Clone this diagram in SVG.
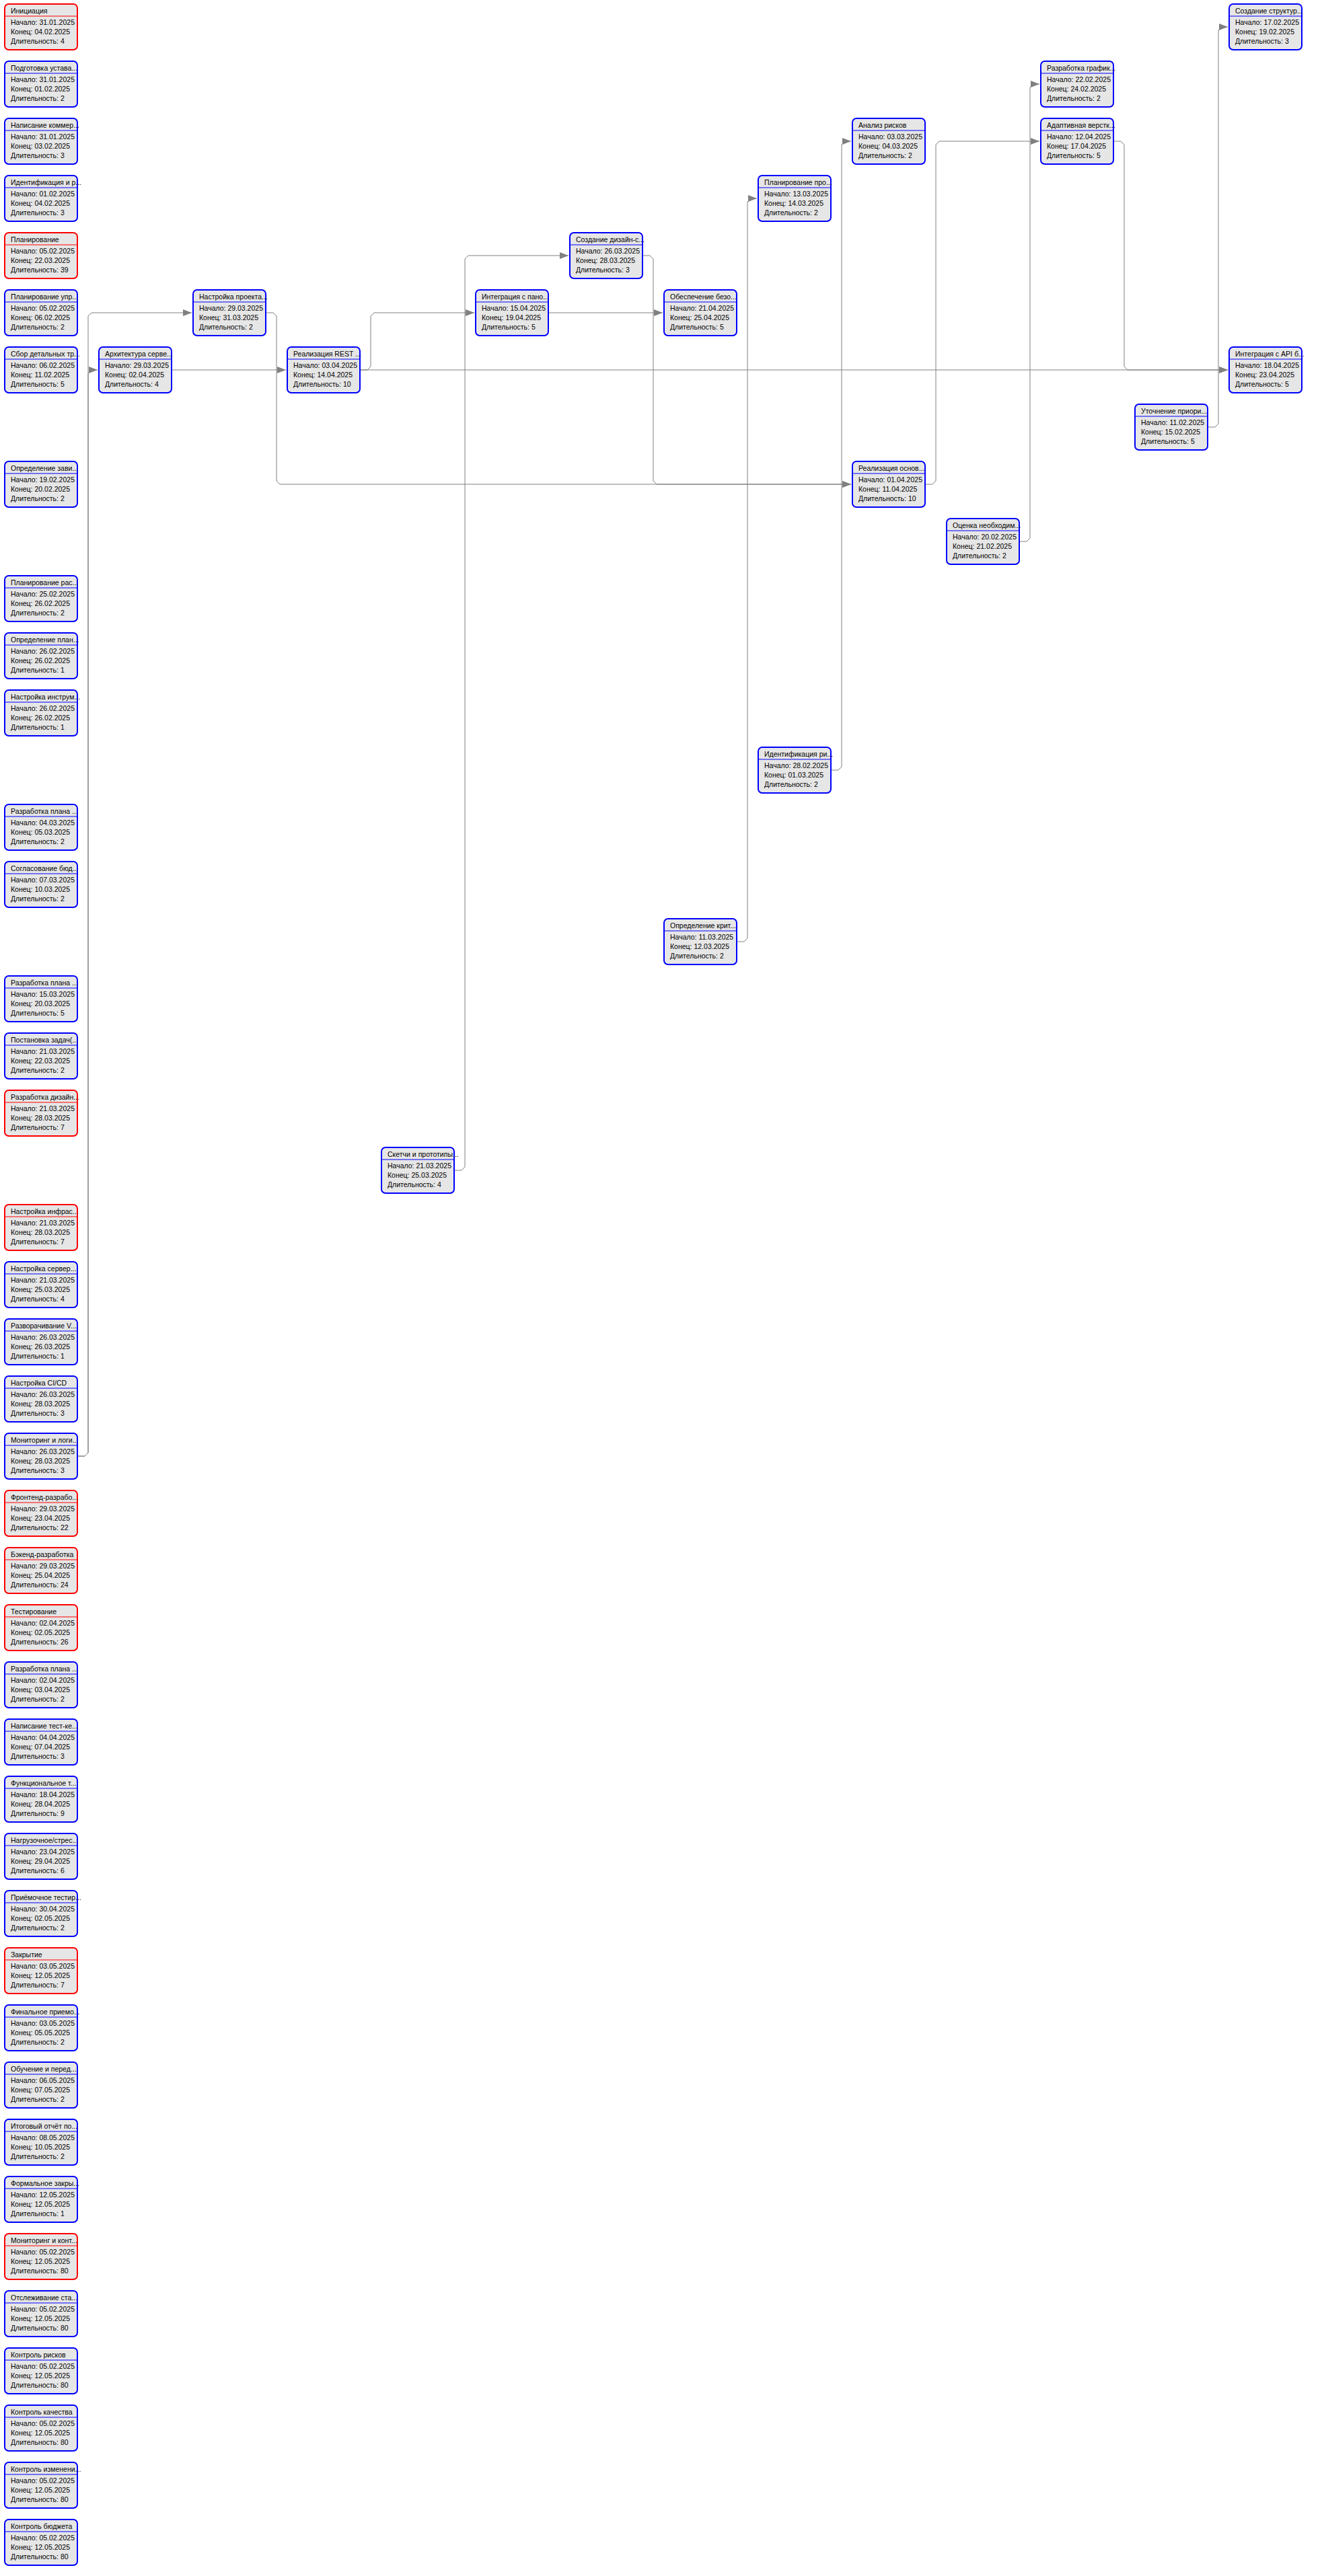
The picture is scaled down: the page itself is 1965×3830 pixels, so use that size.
<svg xmlns="http://www.w3.org/2000/svg" width="1965" height="3830" viewBox="0 0 1965 3830">
<defs>
<style>
.b{fill:#E6E6E6;stroke:#0000FF;stroke-width:2}
.r .b{stroke:#FF0000}
.hl{stroke:#0000FF;stroke-width:1}
.r .hl{stroke:#FF0000}
text{font-family:"Liberation Sans",Arial,sans-serif;font-size:10.5px;fill:#000}
.c{fill:none;stroke:#808080;stroke-width:1}
</style>
<marker id="ah" markerUnits="userSpaceOnUse" markerWidth="14" markerHeight="10" refX="13" refY="5" orient="auto">
<path d="M0,0 L13,5 L0,10 z" fill="#808080"/>
</marker>
</defs>
<rect width="1965" height="3830" fill="#FFFFFF"/>
<g id="connectors">
<path class="c" marker-end="url(#ah)" d="M116,2165 H126 L131,2160 V470 L136,465 H285"/>
<path class="c" marker-end="url(#ah)" d="M116,2165 H126 L131,2160 V555 L136,550 H145"/>
<path class="c" marker-end="url(#ah)" d="M396,465 H406 L411,470 V715 L416,720 H1265"/>
<path class="c" marker-end="url(#ah)" d="M256,550 H425"/>
<path class="c" marker-end="url(#ah)" d="M536,550 H546 L551,545 V470 L556,465 H705"/>
<path class="c" marker-end="url(#ah)" d="M536,550 H1825"/>
<path class="c" marker-end="url(#ah)" d="M816,465 H985"/>
<path class="c" marker-end="url(#ah)" d="M676,1740 H686 L691,1735 V385 L696,380 H845"/>
<path class="c" marker-end="url(#ah)" d="M956,380 H966 L971,385 V715 L976,720 H1265"/>
<path class="c" marker-end="url(#ah)" d="M1096,1400 H1106 L1111,1395 V300 L1116,295 H1125"/>
<path class="c" marker-end="url(#ah)" d="M1236,1145 H1246 L1251,1140 V215 L1256,210 H1265"/>
<path class="c" marker-end="url(#ah)" d="M1376,720 H1386 L1391,715 V215 L1396,210 H1545"/>
<path class="c" marker-end="url(#ah)" d="M1516,805 H1526 L1531,800 V130 L1536,125 H1545"/>
<path class="c" marker-end="url(#ah)" d="M1656,210 H1666 L1671,215 V545 L1676,550 H1825"/>
<path class="c" marker-end="url(#ah)" d="M1796,635 H1806 L1811,630 V45 L1816,40 H1825"/>
</g>
<g id="n0" class="r" transform="translate(6,5)"><rect class="b" x="1" y="1" width="108" height="68" rx="6"/><line class="hl" x1="1" y1="19" x2="109" y2="19"/><text x="10" y="14.5">Инициация</text><text x="10" y="32">Начало: 31.01.2025</text><text x="10" y="46">Конец: 04.02.2025</text><text x="10" y="60">Длительность: 4</text></g>
<g id="n1" transform="translate(6,90)"><rect class="b" x="1" y="1" width="108" height="68" rx="6"/><line class="hl" x1="1" y1="19" x2="109" y2="19"/><text x="10" y="14.5">Подготовка устава...</text><text x="10" y="32">Начало: 31.01.2025</text><text x="10" y="46">Конец: 01.02.2025</text><text x="10" y="60">Длительность: 2</text></g>
<g id="n2" transform="translate(6,175)"><rect class="b" x="1" y="1" width="108" height="68" rx="6"/><line class="hl" x1="1" y1="19" x2="109" y2="19"/><text x="10" y="14.5">Написание коммер...</text><text x="10" y="32">Начало: 31.01.2025</text><text x="10" y="46">Конец: 03.02.2025</text><text x="10" y="60">Длительность: 3</text></g>
<g id="n3" transform="translate(6,260)"><rect class="b" x="1" y="1" width="108" height="68" rx="6"/><line class="hl" x1="1" y1="19" x2="109" y2="19"/><text x="10" y="14.5">Идентификация и р...</text><text x="10" y="32">Начало: 01.02.2025</text><text x="10" y="46">Конец: 04.02.2025</text><text x="10" y="60">Длительность: 3</text></g>
<g id="n4" class="r" transform="translate(6,345)"><rect class="b" x="1" y="1" width="108" height="68" rx="6"/><line class="hl" x1="1" y1="19" x2="109" y2="19"/><text x="10" y="14.5">Планирование</text><text x="10" y="32">Начало: 05.02.2025</text><text x="10" y="46">Конец: 22.03.2025</text><text x="10" y="60">Длительность: 39</text></g>
<g id="n5" transform="translate(6,430)"><rect class="b" x="1" y="1" width="108" height="68" rx="6"/><line class="hl" x1="1" y1="19" x2="109" y2="19"/><text x="10" y="14.5">Планирование упр...</text><text x="10" y="32">Начало: 05.02.2025</text><text x="10" y="46">Конец: 06.02.2025</text><text x="10" y="60">Длительность: 2</text></g>
<g id="n6" transform="translate(6,515)"><rect class="b" x="1" y="1" width="108" height="68" rx="6"/><line class="hl" x1="1" y1="19" x2="109" y2="19"/><text x="10" y="14.5">Сбор детальных тр...</text><text x="10" y="32">Начало: 06.02.2025</text><text x="10" y="46">Конец: 11.02.2025</text><text x="10" y="60">Длительность: 5</text></g>
<g id="n7" transform="translate(6,685)"><rect class="b" x="1" y="1" width="108" height="68" rx="6"/><line class="hl" x1="1" y1="19" x2="109" y2="19"/><text x="10" y="14.5">Определение зави...</text><text x="10" y="32">Начало: 19.02.2025</text><text x="10" y="46">Конец: 20.02.2025</text><text x="10" y="60">Длительность: 2</text></g>
<g id="n8" transform="translate(6,855)"><rect class="b" x="1" y="1" width="108" height="68" rx="6"/><line class="hl" x1="1" y1="19" x2="109" y2="19"/><text x="10" y="14.5">Планирование рас...</text><text x="10" y="32">Начало: 25.02.2025</text><text x="10" y="46">Конец: 26.02.2025</text><text x="10" y="60">Длительность: 2</text></g>
<g id="n9" transform="translate(6,940)"><rect class="b" x="1" y="1" width="108" height="68" rx="6"/><line class="hl" x1="1" y1="19" x2="109" y2="19"/><text x="10" y="14.5">Определение план...</text><text x="10" y="32">Начало: 26.02.2025</text><text x="10" y="46">Конец: 26.02.2025</text><text x="10" y="60">Длительность: 1</text></g>
<g id="n10" transform="translate(6,1025)"><rect class="b" x="1" y="1" width="108" height="68" rx="6"/><line class="hl" x1="1" y1="19" x2="109" y2="19"/><text x="10" y="14.5">Настройка инструм...</text><text x="10" y="32">Начало: 26.02.2025</text><text x="10" y="46">Конец: 26.02.2025</text><text x="10" y="60">Длительность: 1</text></g>
<g id="n11" transform="translate(6,1195)"><rect class="b" x="1" y="1" width="108" height="68" rx="6"/><line class="hl" x1="1" y1="19" x2="109" y2="19"/><text x="10" y="14.5">Разработка плана ...</text><text x="10" y="32">Начало: 04.03.2025</text><text x="10" y="46">Конец: 05.03.2025</text><text x="10" y="60">Длительность: 2</text></g>
<g id="n12" transform="translate(6,1280)"><rect class="b" x="1" y="1" width="108" height="68" rx="6"/><line class="hl" x1="1" y1="19" x2="109" y2="19"/><text x="10" y="14.5">Согласование бюд...</text><text x="10" y="32">Начало: 07.03.2025</text><text x="10" y="46">Конец: 10.03.2025</text><text x="10" y="60">Длительность: 2</text></g>
<g id="n13" transform="translate(6,1450)"><rect class="b" x="1" y="1" width="108" height="68" rx="6"/><line class="hl" x1="1" y1="19" x2="109" y2="19"/><text x="10" y="14.5">Разработка плана ...</text><text x="10" y="32">Начало: 15.03.2025</text><text x="10" y="46">Конец: 20.03.2025</text><text x="10" y="60">Длительность: 5</text></g>
<g id="n14" transform="translate(6,1535)"><rect class="b" x="1" y="1" width="108" height="68" rx="6"/><line class="hl" x1="1" y1="19" x2="109" y2="19"/><text x="10" y="14.5">Постановка задач(...</text><text x="10" y="32">Начало: 21.03.2025</text><text x="10" y="46">Конец: 22.03.2025</text><text x="10" y="60">Длительность: 2</text></g>
<g id="n15" class="r" transform="translate(6,1620)"><rect class="b" x="1" y="1" width="108" height="68" rx="6"/><line class="hl" x1="1" y1="19" x2="109" y2="19"/><text x="10" y="14.5">Разработка дизайн...</text><text x="10" y="32">Начало: 21.03.2025</text><text x="10" y="46">Конец: 28.03.2025</text><text x="10" y="60">Длительность: 7</text></g>
<g id="n16" class="r" transform="translate(6,1790)"><rect class="b" x="1" y="1" width="108" height="68" rx="6"/><line class="hl" x1="1" y1="19" x2="109" y2="19"/><text x="10" y="14.5">Настройка инфрас...</text><text x="10" y="32">Начало: 21.03.2025</text><text x="10" y="46">Конец: 28.03.2025</text><text x="10" y="60">Длительность: 7</text></g>
<g id="n17" transform="translate(6,1875)"><rect class="b" x="1" y="1" width="108" height="68" rx="6"/><line class="hl" x1="1" y1="19" x2="109" y2="19"/><text x="10" y="14.5">Настройка сервер...</text><text x="10" y="32">Начало: 21.03.2025</text><text x="10" y="46">Конец: 25.03.2025</text><text x="10" y="60">Длительность: 4</text></g>
<g id="n18" transform="translate(6,1960)"><rect class="b" x="1" y="1" width="108" height="68" rx="6"/><line class="hl" x1="1" y1="19" x2="109" y2="19"/><text x="10" y="14.5">Разворачивание V...</text><text x="10" y="32">Начало: 26.03.2025</text><text x="10" y="46">Конец: 26.03.2025</text><text x="10" y="60">Длительность: 1</text></g>
<g id="n19" transform="translate(6,2045)"><rect class="b" x="1" y="1" width="108" height="68" rx="6"/><line class="hl" x1="1" y1="19" x2="109" y2="19"/><text x="10" y="14.5">Настройка CI/CD</text><text x="10" y="32">Начало: 26.03.2025</text><text x="10" y="46">Конец: 28.03.2025</text><text x="10" y="60">Длительность: 3</text></g>
<g id="n20" transform="translate(6,2130)"><rect class="b" x="1" y="1" width="108" height="68" rx="6"/><line class="hl" x1="1" y1="19" x2="109" y2="19"/><text x="10" y="14.5">Мониторинг и логи...</text><text x="10" y="32">Начало: 26.03.2025</text><text x="10" y="46">Конец: 28.03.2025</text><text x="10" y="60">Длительность: 3</text></g>
<g id="n21" class="r" transform="translate(6,2215)"><rect class="b" x="1" y="1" width="108" height="68" rx="6"/><line class="hl" x1="1" y1="19" x2="109" y2="19"/><text x="10" y="14.5">Фронтенд-разрабо...</text><text x="10" y="32">Начало: 29.03.2025</text><text x="10" y="46">Конец: 23.04.2025</text><text x="10" y="60">Длительность: 22</text></g>
<g id="n22" class="r" transform="translate(6,2300)"><rect class="b" x="1" y="1" width="108" height="68" rx="6"/><line class="hl" x1="1" y1="19" x2="109" y2="19"/><text x="10" y="14.5">Бэкенд-разработка</text><text x="10" y="32">Начало: 29.03.2025</text><text x="10" y="46">Конец: 25.04.2025</text><text x="10" y="60">Длительность: 24</text></g>
<g id="n23" class="r" transform="translate(6,2385)"><rect class="b" x="1" y="1" width="108" height="68" rx="6"/><line class="hl" x1="1" y1="19" x2="109" y2="19"/><text x="10" y="14.5">Тестирование</text><text x="10" y="32">Начало: 02.04.2025</text><text x="10" y="46">Конец: 02.05.2025</text><text x="10" y="60">Длительность: 26</text></g>
<g id="n24" transform="translate(6,2470)"><rect class="b" x="1" y="1" width="108" height="68" rx="6"/><line class="hl" x1="1" y1="19" x2="109" y2="19"/><text x="10" y="14.5">Разработка плана ...</text><text x="10" y="32">Начало: 02.04.2025</text><text x="10" y="46">Конец: 03.04.2025</text><text x="10" y="60">Длительность: 2</text></g>
<g id="n25" transform="translate(6,2555)"><rect class="b" x="1" y="1" width="108" height="68" rx="6"/><line class="hl" x1="1" y1="19" x2="109" y2="19"/><text x="10" y="14.5">Написание тест-ке...</text><text x="10" y="32">Начало: 04.04.2025</text><text x="10" y="46">Конец: 07.04.2025</text><text x="10" y="60">Длительность: 3</text></g>
<g id="n26" transform="translate(6,2640)"><rect class="b" x="1" y="1" width="108" height="68" rx="6"/><line class="hl" x1="1" y1="19" x2="109" y2="19"/><text x="10" y="14.5">Функциональное т...</text><text x="10" y="32">Начало: 18.04.2025</text><text x="10" y="46">Конец: 28.04.2025</text><text x="10" y="60">Длительность: 9</text></g>
<g id="n27" transform="translate(6,2725)"><rect class="b" x="1" y="1" width="108" height="68" rx="6"/><line class="hl" x1="1" y1="19" x2="109" y2="19"/><text x="10" y="14.5">Нагрузочное/стрес...</text><text x="10" y="32">Начало: 23.04.2025</text><text x="10" y="46">Конец: 29.04.2025</text><text x="10" y="60">Длительность: 6</text></g>
<g id="n28" transform="translate(6,2810)"><rect class="b" x="1" y="1" width="108" height="68" rx="6"/><line class="hl" x1="1" y1="19" x2="109" y2="19"/><text x="10" y="14.5">Приёмочное тестир...</text><text x="10" y="32">Начало: 30.04.2025</text><text x="10" y="46">Конец: 02.05.2025</text><text x="10" y="60">Длительность: 2</text></g>
<g id="n29" class="r" transform="translate(6,2895)"><rect class="b" x="1" y="1" width="108" height="68" rx="6"/><line class="hl" x1="1" y1="19" x2="109" y2="19"/><text x="10" y="14.5">Закрытие</text><text x="10" y="32">Начало: 03.05.2025</text><text x="10" y="46">Конец: 12.05.2025</text><text x="10" y="60">Длительность: 7</text></g>
<g id="n30" transform="translate(6,2980)"><rect class="b" x="1" y="1" width="108" height="68" rx="6"/><line class="hl" x1="1" y1="19" x2="109" y2="19"/><text x="10" y="14.5">Финальное приемо...</text><text x="10" y="32">Начало: 03.05.2025</text><text x="10" y="46">Конец: 05.05.2025</text><text x="10" y="60">Длительность: 2</text></g>
<g id="n31" transform="translate(6,3065)"><rect class="b" x="1" y="1" width="108" height="68" rx="6"/><line class="hl" x1="1" y1="19" x2="109" y2="19"/><text x="10" y="14.5">Обучение и перед...</text><text x="10" y="32">Начало: 06.05.2025</text><text x="10" y="46">Конец: 07.05.2025</text><text x="10" y="60">Длительность: 2</text></g>
<g id="n32" transform="translate(6,3150)"><rect class="b" x="1" y="1" width="108" height="68" rx="6"/><line class="hl" x1="1" y1="19" x2="109" y2="19"/><text x="10" y="14.5">Итоговый отчёт по...</text><text x="10" y="32">Начало: 08.05.2025</text><text x="10" y="46">Конец: 10.05.2025</text><text x="10" y="60">Длительность: 2</text></g>
<g id="n33" transform="translate(6,3235)"><rect class="b" x="1" y="1" width="108" height="68" rx="6"/><line class="hl" x1="1" y1="19" x2="109" y2="19"/><text x="10" y="14.5">Формальное закры...</text><text x="10" y="32">Начало: 12.05.2025</text><text x="10" y="46">Конец: 12.05.2025</text><text x="10" y="60">Длительность: 1</text></g>
<g id="n34" class="r" transform="translate(6,3320)"><rect class="b" x="1" y="1" width="108" height="68" rx="6"/><line class="hl" x1="1" y1="19" x2="109" y2="19"/><text x="10" y="14.5">Мониторинг и конт...</text><text x="10" y="32">Начало: 05.02.2025</text><text x="10" y="46">Конец: 12.05.2025</text><text x="10" y="60">Длительность: 80</text></g>
<g id="n35" transform="translate(6,3405)"><rect class="b" x="1" y="1" width="108" height="68" rx="6"/><line class="hl" x1="1" y1="19" x2="109" y2="19"/><text x="10" y="14.5">Отслеживание ста...</text><text x="10" y="32">Начало: 05.02.2025</text><text x="10" y="46">Конец: 12.05.2025</text><text x="10" y="60">Длительность: 80</text></g>
<g id="n36" transform="translate(6,3490)"><rect class="b" x="1" y="1" width="108" height="68" rx="6"/><line class="hl" x1="1" y1="19" x2="109" y2="19"/><text x="10" y="14.5">Контроль рисков</text><text x="10" y="32">Начало: 05.02.2025</text><text x="10" y="46">Конец: 12.05.2025</text><text x="10" y="60">Длительность: 80</text></g>
<g id="n37" transform="translate(6,3575)"><rect class="b" x="1" y="1" width="108" height="68" rx="6"/><line class="hl" x1="1" y1="19" x2="109" y2="19"/><text x="10" y="14.5">Контроль качества</text><text x="10" y="32">Начало: 05.02.2025</text><text x="10" y="46">Конец: 12.05.2025</text><text x="10" y="60">Длительность: 80</text></g>
<g id="n38" transform="translate(6,3660)"><rect class="b" x="1" y="1" width="108" height="68" rx="6"/><line class="hl" x1="1" y1="19" x2="109" y2="19"/><text x="10" y="14.5">Контроль изменени...</text><text x="10" y="32">Начало: 05.02.2025</text><text x="10" y="46">Конец: 12.05.2025</text><text x="10" y="60">Длительность: 80</text></g>
<g id="n39" transform="translate(6,3745)"><rect class="b" x="1" y="1" width="108" height="68" rx="6"/><line class="hl" x1="1" y1="19" x2="109" y2="19"/><text x="10" y="14.5">Контроль бюджета</text><text x="10" y="32">Начало: 05.02.2025</text><text x="10" y="46">Конец: 12.05.2025</text><text x="10" y="60">Длительность: 80</text></g>
<g id="n40" transform="translate(286,430)"><rect class="b" x="1" y="1" width="108" height="68" rx="6"/><line class="hl" x1="1" y1="19" x2="109" y2="19"/><text x="10" y="14.5">Настройка проекта...</text><text x="10" y="32">Начало: 29.03.2025</text><text x="10" y="46">Конец: 31.03.2025</text><text x="10" y="60">Длительность: 2</text></g>
<g id="n41" transform="translate(146,515)"><rect class="b" x="1" y="1" width="108" height="68" rx="6"/><line class="hl" x1="1" y1="19" x2="109" y2="19"/><text x="10" y="14.5">Архитектура серве...</text><text x="10" y="32">Начало: 29.03.2025</text><text x="10" y="46">Конец: 02.04.2025</text><text x="10" y="60">Длительность: 4</text></g>
<g id="n42" transform="translate(426,515)"><rect class="b" x="1" y="1" width="108" height="68" rx="6"/><line class="hl" x1="1" y1="19" x2="109" y2="19"/><text x="10" y="14.5">Реализация REST ...</text><text x="10" y="32">Начало: 03.04.2025</text><text x="10" y="46">Конец: 14.04.2025</text><text x="10" y="60">Длительность: 10</text></g>
<g id="n43" transform="translate(706,430)"><rect class="b" x="1" y="1" width="108" height="68" rx="6"/><line class="hl" x1="1" y1="19" x2="109" y2="19"/><text x="10" y="14.5">Интеграция с пано...</text><text x="10" y="32">Начало: 15.04.2025</text><text x="10" y="46">Конец: 19.04.2025</text><text x="10" y="60">Длительность: 5</text></g>
<g id="n44" transform="translate(846,345)"><rect class="b" x="1" y="1" width="108" height="68" rx="6"/><line class="hl" x1="1" y1="19" x2="109" y2="19"/><text x="10" y="14.5">Создание дизайн-с...</text><text x="10" y="32">Начало: 26.03.2025</text><text x="10" y="46">Конец: 28.03.2025</text><text x="10" y="60">Длительность: 3</text></g>
<g id="n45" transform="translate(986,430)"><rect class="b" x="1" y="1" width="108" height="68" rx="6"/><line class="hl" x1="1" y1="19" x2="109" y2="19"/><text x="10" y="14.5">Обеспечение безо...</text><text x="10" y="32">Начало: 21.04.2025</text><text x="10" y="46">Конец: 25.04.2025</text><text x="10" y="60">Длительность: 5</text></g>
<g id="n46" transform="translate(1126,260)"><rect class="b" x="1" y="1" width="108" height="68" rx="6"/><line class="hl" x1="1" y1="19" x2="109" y2="19"/><text x="10" y="14.5">Планирование про...</text><text x="10" y="32">Начало: 13.03.2025</text><text x="10" y="46">Конец: 14.03.2025</text><text x="10" y="60">Длительность: 2</text></g>
<g id="n47" transform="translate(1266,175)"><rect class="b" x="1" y="1" width="108" height="68" rx="6"/><line class="hl" x1="1" y1="19" x2="109" y2="19"/><text x="10" y="14.5">Анализ рисков</text><text x="10" y="32">Начало: 03.03.2025</text><text x="10" y="46">Конец: 04.03.2025</text><text x="10" y="60">Длительность: 2</text></g>
<g id="n48" transform="translate(1266,685)"><rect class="b" x="1" y="1" width="108" height="68" rx="6"/><line class="hl" x1="1" y1="19" x2="109" y2="19"/><text x="10" y="14.5">Реализация основ...</text><text x="10" y="32">Начало: 01.04.2025</text><text x="10" y="46">Конец: 11.04.2025</text><text x="10" y="60">Длительность: 10</text></g>
<g id="n49" transform="translate(1406,770)"><rect class="b" x="1" y="1" width="108" height="68" rx="6"/><line class="hl" x1="1" y1="19" x2="109" y2="19"/><text x="10" y="14.5">Оценка необходим...</text><text x="10" y="32">Начало: 20.02.2025</text><text x="10" y="46">Конец: 21.02.2025</text><text x="10" y="60">Длительность: 2</text></g>
<g id="n50" transform="translate(1546,90)"><rect class="b" x="1" y="1" width="108" height="68" rx="6"/><line class="hl" x1="1" y1="19" x2="109" y2="19"/><text x="10" y="14.5">Разработка график...</text><text x="10" y="32">Начало: 22.02.2025</text><text x="10" y="46">Конец: 24.02.2025</text><text x="10" y="60">Длительность: 2</text></g>
<g id="n51" transform="translate(1546,175)"><rect class="b" x="1" y="1" width="108" height="68" rx="6"/><line class="hl" x1="1" y1="19" x2="109" y2="19"/><text x="10" y="14.5">Адаптивная верстк...</text><text x="10" y="32">Начало: 12.04.2025</text><text x="10" y="46">Конец: 17.04.2025</text><text x="10" y="60">Длительность: 5</text></g>
<g id="n52" transform="translate(1826,5)"><rect class="b" x="1" y="1" width="108" height="68" rx="6"/><line class="hl" x1="1" y1="19" x2="109" y2="19"/><text x="10" y="14.5">Создание структур...</text><text x="10" y="32">Начало: 17.02.2025</text><text x="10" y="46">Конец: 19.02.2025</text><text x="10" y="60">Длительность: 3</text></g>
<g id="n53" transform="translate(1826,515)"><rect class="b" x="1" y="1" width="108" height="68" rx="6"/><line class="hl" x1="1" y1="19" x2="109" y2="19"/><text x="10" y="14.5">Интеграция с API б...</text><text x="10" y="32">Начало: 18.04.2025</text><text x="10" y="46">Конец: 23.04.2025</text><text x="10" y="60">Длительность: 5</text></g>
<g id="n54" transform="translate(1686,600)"><rect class="b" x="1" y="1" width="108" height="68" rx="6"/><line class="hl" x1="1" y1="19" x2="109" y2="19"/><text x="10" y="14.5">Уточнение приори...</text><text x="10" y="32">Начало: 11.02.2025</text><text x="10" y="46">Конец: 15.02.2025</text><text x="10" y="60">Длительность: 5</text></g>
<g id="n55" transform="translate(1126,1110)"><rect class="b" x="1" y="1" width="108" height="68" rx="6"/><line class="hl" x1="1" y1="19" x2="109" y2="19"/><text x="10" y="14.5">Идентификация ри...</text><text x="10" y="32">Начало: 28.02.2025</text><text x="10" y="46">Конец: 01.03.2025</text><text x="10" y="60">Длительность: 2</text></g>
<g id="n56" transform="translate(986,1365)"><rect class="b" x="1" y="1" width="108" height="68" rx="6"/><line class="hl" x1="1" y1="19" x2="109" y2="19"/><text x="10" y="14.5">Определение крит...</text><text x="10" y="32">Начало: 11.03.2025</text><text x="10" y="46">Конец: 12.03.2025</text><text x="10" y="60">Длительность: 2</text></g>
<g id="n57" transform="translate(566,1705)"><rect class="b" x="1" y="1" width="108" height="68" rx="6"/><line class="hl" x1="1" y1="19" x2="109" y2="19"/><text x="10" y="14.5">Скетчи и прототипы...</text><text x="10" y="32">Начало: 21.03.2025</text><text x="10" y="46">Конец: 25.03.2025</text><text x="10" y="60">Длительность: 4</text></g>
</svg>
